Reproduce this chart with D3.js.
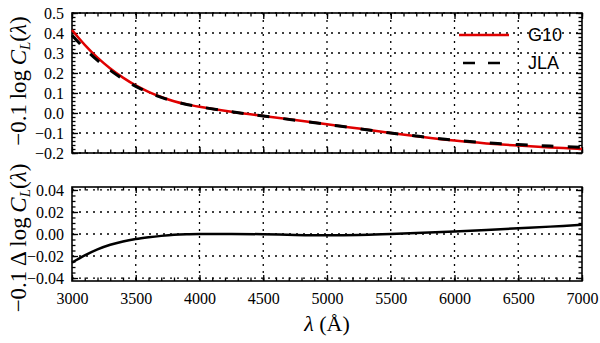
<!DOCTYPE html>
<html>
<head>
<meta charset="utf-8">
<script src="https://cdn.jsdelivr.net/npm/d3@7"></script>
<style>
  body { margin: 0; background: #fff; }
  svg { display: block; }
</style>
</head>
<body>
<svg id="chart" width="600" height="343"></svg>
<script>
// wavelength grid (Angstrom)
const lam = [3000,3100,3200,3300,3400,3500,3600,3700,3800,3900,4000,4250,4500,4750,5000,5250,5500,5750,6000,6250,6500,6750,7000];
// -0.1 log C_L, G10 law
const g10 = [0.415,0.341,0.277,0.223,0.177,0.138,0.106,0.080,0.059,0.043,0.031,0.006,-0.015,-0.035,-0.056,-0.078,-0.100,-0.120,-0.138,-0.152,-0.163,-0.172,-0.180];
// -0.1 log C_L, JLA law
const jla = [0.389,0.3215,0.263,0.2132,0.1702,0.1334,0.103,0.0783,0.0583,0.0428,0.031,0.0061,-0.0152,-0.0358,-0.0571,-0.0788,-0.0999,-0.1189,-0.1358,-0.1483,-0.1578,-0.1653,-0.1717];
// difference panel
const diff = [-0.026,-0.0195,-0.014,-0.0098,-0.0068,-0.0046,-0.003,-0.0017,-0.0007,-0.0002,0.0,0.0001,-0.0002,-0.0008,-0.0011,-0.0008,0.0001,0.0011,0.0022,0.0037,0.0052,0.0067,0.0083];

const xTicks = [3000,3500,4000,4500,5000,5500,6000,6500,7000];
const topTicks = [0.5,0.4,0.3,0.2,0.1,0.0,-0.1,-0.2];
const botTicks = [0.04,0.02,0.00,-0.02,-0.04];

const svg = d3.select("#chart");
const serif = "'Liberation Serif','Times New Roman',serif";

const left = 72, right = 582;
const top1 = 13, bot1 = 153;
const top2 = 187, bot2 = 281;

const x = d3.scaleLinear().domain([3000, 7000]).range([left, right]);
const y1 = d3.scaleLinear().domain([-0.2, 0.5]).range([bot1, top1]);
const y2 = d3.scaleLinear().domain([-0.0427, 0.0427]).range([bot2, top2]);

const fmtX = d3.format("d");
const fmt1 = v => d3.format(".1f")(v).replace("-", "\u2212");
const fmt2 = v => d3.format(".2f")(v).replace("-", "\u2212");

function panel(y, yt, yMinor, fmtY, showX) {
  const g = svg.append("g");
  const [b, t] = y.range();

  // dotted grid
  g.selectAll(".vg").data(xTicks.slice(1, -1)).enter().append("line")
    .attr("x1", d => x(d)).attr("x2", d => x(d))
    .attr("y1", t).attr("y2", b)
    .attr("stroke", "#000").attr("stroke-width", 1.3)
    .attr("stroke-dasharray", "2,5");
  g.selectAll(".hg").data(yt).enter().append("line")
    .attr("x1", left).attr("x2", right)
    .attr("y1", d => y(d)).attr("y2", d => y(d))
    .attr("stroke", "#000").attr("stroke-width", 1.3)
    .attr("stroke-dasharray", "2,5");

  const minorX = d3.range(3000, 7001, 100);

  // bottom / top axes
  g.append("g").attr("transform", `translate(0,${b})`)
    .call(d3.axisBottom(x).tickValues(minorX).tickSize(-3.5).tickFormat(""));
  g.append("g").attr("transform", `translate(0,${b})`)
    .call(d3.axisBottom(x).tickValues(xTicks).tickSize(-6).tickPadding(12)
      .tickFormat(showX ? fmtX : ""));
  g.append("g").attr("transform", `translate(0,${t})`)
    .call(d3.axisTop(x).tickValues(minorX).tickSize(-3.5).tickFormat(""));
  g.append("g").attr("transform", `translate(0,${t})`)
    .call(d3.axisTop(x).tickValues(xTicks).tickSize(-6).tickFormat(""));

  // left / right axes
  g.append("g").attr("transform", `translate(${left},0)`)
    .call(d3.axisLeft(y).tickValues(yMinor).tickSize(-3.5).tickFormat(""));
  g.append("g").attr("transform", `translate(${left},0)`)
    .call(d3.axisLeft(y).tickValues(yt).tickSize(-6).tickPadding(8).tickFormat(fmtY));
  g.append("g").attr("transform", `translate(${right},0)`)
    .call(d3.axisRight(y).tickValues(yMinor).tickSize(-3.5).tickFormat(""));
  g.append("g").attr("transform", `translate(${right},0)`)
    .call(d3.axisRight(y).tickValues(yt).tickSize(-6).tickFormat(""));

  g.selectAll(".domain").remove();
  g.selectAll(".tick line").attr("stroke", "#000").attr("stroke-width", 1.3);
  g.selectAll(".tick text").style("font-family", serif).style("font-size", "16px").attr("fill", "#000");

  g.append("rect").attr("x", left).attr("y", t)
    .attr("width", right - left).attr("height", b - t)
    .attr("fill", "none").attr("stroke", "#000").attr("stroke-width", 1.6);
  return g;
}

panel(y1, topTicks, d3.range(-0.2, 0.5001, 0.02), fmt1, false);
panel(y2, botTicks, d3.range(-0.04, 0.0401, 0.005), fmt2, true);

// curves
const line1 = d3.line().x((d, i) => x(lam[i])).y(d => y1(d)).curve(d3.curveCatmullRom.alpha(0.5));
const line2 = d3.line().x((d, i) => x(lam[i])).y(d => y2(d)).curve(d3.curveCatmullRom.alpha(0.5));

svg.append("path").attr("d", line1(g10))
  .attr("fill", "none").attr("stroke", "#e00000").attr("stroke-width", 2.5);
svg.append("path").attr("d", line1(jla))
  .attr("fill", "none").attr("stroke", "#000").attr("stroke-width", 3)
  .attr("stroke-dasharray", "12,14");
svg.append("path").attr("d", line2(diff))
  .attr("fill", "none").attr("stroke", "#000").attr("stroke-width", 2.5);

// legend
const leg = svg.append("g");
leg.append("line").attr("x1", 459).attr("x2", 509).attr("y1", 35).attr("y2", 35)
  .attr("stroke", "#e00000").attr("stroke-width", 2.5);
leg.append("line").attr("x1", 463).attr("x2", 501).attr("y1", 63).attr("y2", 63)
  .attr("stroke", "#000").attr("stroke-width", 2.5).attr("stroke-dasharray", "12,13");
leg.append("text").attr("x", 528).attr("y", 41).text("G10")
  .attr("font-family", "'Liberation Sans',Arial,sans-serif").attr("font-size", 18);
leg.append("text").attr("x", 528).attr("y", 69).text("JLA")
  .attr("font-family", "'Liberation Sans',Arial,sans-serif").attr("font-size", 18);

// axis labels
function yLabel(cy, delta) {
  const t = svg.append("text")
    .attr("transform", `translate(26,${cy}) rotate(-90)`)
    .attr("text-anchor", "middle")
    .attr("font-family", serif).attr("font-size", 23);
  t.append("tspan").text(delta ? "\u22120.1\u2009\u0394\u2009log\u2009" : "\u22120.1\u2009log\u2009");
  t.append("tspan").attr("font-style", "italic").text("C");
  t.append("tspan").attr("font-style", "italic").attr("font-size", 15).attr("dy", 4).text("L");
  t.append("tspan").attr("dy", -4).text("(");
  t.append("tspan").attr("font-style", "italic").text("\u03bb");
  t.append("tspan").text(")");
}
yLabel((top1 + bot1) / 2 - 2, false);
yLabel((top2 + bot2) / 2 + 4, true);

const xl = svg.append("text")
  .attr("x", (left + right) / 2).attr("y", 331)
  .attr("text-anchor", "middle")
  .attr("font-family", serif).attr("font-size", 22);
xl.append("tspan").attr("font-style", "italic").text("\u03bb");
xl.append("tspan").text(" (\u00c5)");
</script>
</body>
</html>
